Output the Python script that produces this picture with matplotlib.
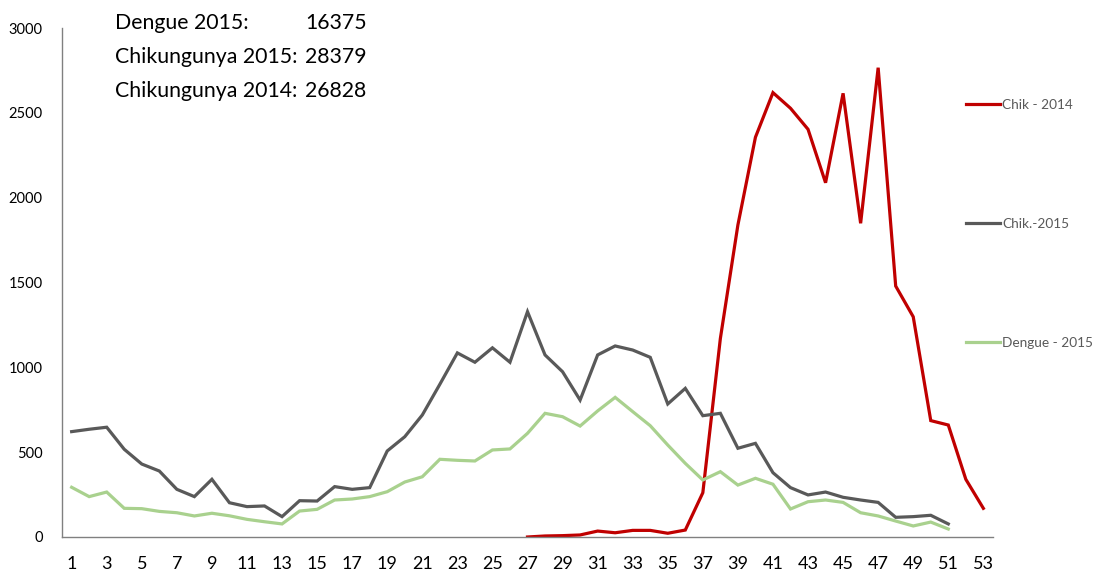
import matplotlib
matplotlib.use("Agg")
import matplotlib.pyplot as plt
import numpy as np


WEEKS = list(range(1, 54))

# weeks 27..53
CHIK_2014 = [0, 6, 8, 12, 35, 25, 39, 39, 22, 41,
             261, 1170, 1839, 2356, 2619, 2527, 2403, 2088, 2615, 1849,
             2766, 1479, 1298, 686, 660, 340, 169]

# weeks 1..51
CHIK_2015 = [621, 635, 647, 517, 430, 389, 281, 238, 340, 202,
             179, 183, 120, 214, 212, 297, 281, 291, 507, 591,
             719, 900, 1085, 1030, 1115, 1030, 1328, 1073, 974, 807,
             1073, 1126, 1102, 1059, 784, 876, 715, 729, 523, 552,
             379, 291, 248, 265, 234, 218, 204, 116, 120, 128, 77]

DENGUE_2015 = [293, 238, 265, 169, 167, 151, 143, 124, 140, 125,
               104, 90, 77, 153, 163, 218, 224, 238, 267, 324,
               355, 458, 452, 448, 513, 519, 611, 729, 709, 654,
               743, 823, 739, 656, 542, 434, 336, 385, 306, 346,
               311, 165, 208, 218, 204, 143, 124, 94, 65, 88, 47]

SERIES_NAMES = ["Chik - 2014", "Chik.-2015", "Dengue - 2015"]
COLORS = ["#C00000", "#595959", "#A9D18E"]

TOTAL_LABELS = ["Dengue 2015:", "Chikungunya 2015:", "Chikungunya 2014:"]
TOTAL_VALUES = ["16375", "28379", "26828"]

FONT = ["Lato", "DejaVu Sans"]


def main():
    plt.rcParams["font.family"] = FONT
    fig = plt.figure(figsize=(11.02, 5.74), dpi=100)
    ax = fig.add_axes([62 / 1102, 37 / 574, (993 - 62) / 1102, (537 - 28) / 574])

    ax.plot(WEEKS[26:], CHIK_2014, c=COLORS[0], lw=2.3, label=SERIES_NAMES[0],
            solid_joinstyle="miter")
    ax.plot(WEEKS[:51], CHIK_2015, c=COLORS[1], lw=2.3, label=SERIES_NAMES[1],
            solid_joinstyle="miter")
    ax.plot(WEEKS[:51], DENGUE_2015, c=COLORS[2], lw=2.3, label=SERIES_NAMES[2],
            solid_joinstyle="miter")

    ax.set_xlim(0.45, 53.55)
    ax.set_ylim(0, 3000)
    ax.set_yticks(np.arange(0, 3001, 500))
    ax.set_xticks(WEEKS[::2])
    ax.tick_params(axis="y", length=0, pad=14, labelsize=10.5)
    ax.tick_params(axis="x", length=0, pad=14, labelsize=13)

    for side in ["top", "right"]:
        ax.spines[side].set_visible(False)
    for side in ["left", "bottom"]:
        ax.spines[side].set_color("#808080")
        ax.spines[side].set_linewidth(1.0)

    fig.legend(loc="upper left", bbox_to_anchor=(966 / 1102, 1 - 99 / 574),
               frameon=False, fontsize=9.8, labelcolor="#595959",
               handlelength=2.5, handletextpad=0.15, labelspacing=7.85,
               borderaxespad=0, borderpad=0)

    for i, (lab, val) in enumerate(zip(TOTAL_LABELS, TOTAL_VALUES)):
        y = 1 - (23 + i * 34) / 574
        fig.text(115 / 1102, y, lab, fontsize=15.3, va="center", ha="left")
        fig.text(305 / 1102, y, val, fontsize=15.3, va="center", ha="left")

    fig.savefig("out.png", dpi=100)
    plt.close(fig)


if __name__ == "__main__":
    main()
